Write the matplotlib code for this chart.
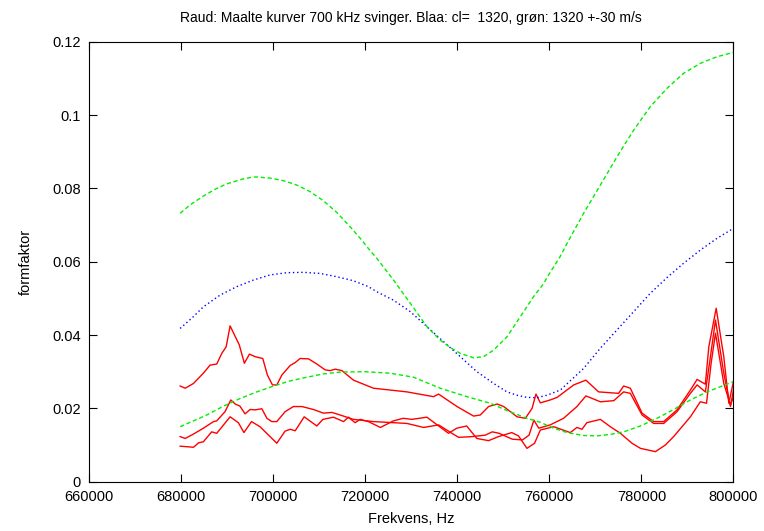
import matplotlib
matplotlib.use('Agg')
import matplotlib.pyplot as plt
from matplotlib.ticker import FuncFormatter

# theory, green (c = 1320 +- 30 m/s)
green_hi_f = [679800, 681960, 684850, 687760, 689900, 690650, 693550, 695700,
              696450, 699350, 702240, 705150, 706600, 708040, 710940, 712400,
              713850, 716740, 718910, 720700, 722540, 726150, 729780, 733400,
              736300, 738500, 740650, 743550, 745720, 747900, 750800, 753700,
              756590, 758750, 759500, 762400, 763850, 767450, 771090, 774700,
              778330, 781950, 785590, 789200, 792830, 795000, 796460, 800000]
green_hi_y = [0.0732, 0.0755, 0.0779, 0.0800, 0.0812, 0.0815, 0.0826, 0.0831,
              0.0831, 0.0828, 0.0821, 0.0809, 0.0800, 0.0791, 0.0766, 0.0750,
              0.0734, 0.0695, 0.0664, 0.0636, 0.0609, 0.0550, 0.0487, 0.0423,
              0.0386, 0.0366, 0.0350, 0.0338, 0.0341, 0.0359, 0.0395, 0.0450,
              0.0505, 0.0540, 0.0557, 0.0615, 0.0650, 0.0732, 0.0809, 0.0886,
              0.0959, 0.1023, 0.1073, 0.1114, 0.1141, 0.1152, 0.1159, 0.1171]

green_lo_f = [679800, 685590, 689200, 692830, 696460, 700070, 703700, 707330,
              710940, 714570, 720000, 725400, 730500, 736300, 742110, 747200,
              750800, 755150, 758050, 760940, 763850, 767460, 770350, 773260,
              776150, 779780, 783400, 787020, 790650, 794280, 800000]
green_lo_y = [0.0150, 0.0182, 0.0206, 0.0227, 0.0245, 0.0261, 0.0275, 0.0285,
              0.0294, 0.0299, 0.0300, 0.0296, 0.0285, 0.0255, 0.0232, 0.0214,
              0.0194, 0.0173, 0.0162, 0.0146, 0.0134, 0.0126, 0.0125, 0.0129,
              0.0136, 0.0152, 0.0173, 0.0197, 0.0223, 0.0245, 0.0273]

# theory, blue (c = 1320 m/s)
blue_f = [679800, 682670, 684850, 688480, 692100, 695720, 699350, 702980,
          706600, 710220, 713850, 717460, 720700, 722540, 726150, 729780,
          733400, 737020, 740650, 744280, 747900, 750800, 752950, 755150,
          757300, 759500, 762400, 767450, 771090, 774700, 778330, 781950,
          785590, 789200, 792830, 796460, 800000]
blue_y = [0.0418, 0.0450, 0.0477, 0.0509, 0.0532, 0.0550, 0.0564, 0.0570,
          0.0571, 0.0568, 0.0559, 0.0548, 0.0532, 0.0518, 0.0495, 0.0464,
          0.0423, 0.0382, 0.0341, 0.0300, 0.0268, 0.0245, 0.0236, 0.0230,
          0.0229, 0.0236, 0.0250, 0.0309, 0.0364, 0.0414, 0.0464, 0.0514,
          0.0557, 0.0596, 0.0632, 0.0664, 0.0691]

# measured curves, red
meas_a_f = [679800, 680900, 682700, 684850, 686300, 687750, 688850, 689800,
            690650, 692650, 693750, 694850, 696100, 697750, 698750, 699850,
            700800, 701900, 703700, 704800, 705850, 707700, 709500, 711300,
            712400, 713500, 714950, 717450, 721800, 729050, 734850, 735950,
            737000, 739950, 743550, 745000, 746800, 748650, 750100, 753000,
            754800, 756250, 757100, 758050, 760200, 761700, 765300, 767950,
            770700, 775050, 776150, 777600, 780150, 782650, 784850, 787750,
            790650, 792100, 793900, 794650, 796250, 797900, 799000, 800000]
meas_a_y = [0.0261, 0.0255, 0.0268, 0.0296, 0.0318, 0.0321, 0.0350, 0.0368,
            0.0425, 0.0373, 0.0323, 0.0348, 0.0341, 0.0336, 0.0291, 0.0264,
            0.0264, 0.0291, 0.0317, 0.0325, 0.0336, 0.0335, 0.0321, 0.0305,
            0.0303, 0.0307, 0.0303, 0.0277, 0.0255, 0.0245, 0.0232, 0.0239,
            0.0230, 0.0205, 0.0179, 0.0182, 0.0205, 0.0212, 0.0205, 0.0177,
            0.0173, 0.0200, 0.0239, 0.0215, 0.0223, 0.0230, 0.0264, 0.0277,
            0.0245, 0.0241, 0.0261, 0.0255, 0.0187, 0.0164, 0.0164, 0.0196,
            0.0250, 0.0279, 0.0266, 0.0368, 0.0473, 0.0341, 0.0214, 0.0273]

meas_b_f = [679800, 680900, 682700, 684850, 687050, 687750, 689550, 690800,
            691750, 692800, 693900, 695000, 696100, 697550, 698650, 699700,
            700800, 702600, 704400, 706250, 708750, 710950, 712750, 714550,
            717450, 721800, 729050, 732700, 735950, 738850, 740300, 743200,
            746100, 747600, 749100, 751950, 754150, 755600, 756650, 757700,
            760200, 763100, 766000, 767950, 771100, 774000, 776150, 777600,
            780150, 782650, 784850, 787750, 790650, 792100, 793900, 795000,
            796100, 797900, 799350, 800000]
meas_b_y = [0.0123, 0.0118, 0.0130, 0.0146, 0.0164, 0.0166, 0.0191, 0.0223,
            0.0212, 0.0206, 0.0185, 0.0197, 0.0196, 0.0199, 0.0173, 0.0164,
            0.0164, 0.0191, 0.0205, 0.0205, 0.0197, 0.0187, 0.0189, 0.0182,
            0.0170, 0.0164, 0.0159, 0.0148, 0.0155, 0.0132, 0.0121, 0.0123,
            0.0127, 0.0136, 0.0132, 0.0116, 0.0114, 0.0127, 0.0168, 0.0146,
            0.0155, 0.0173, 0.0205, 0.0234, 0.0218, 0.0221, 0.0245, 0.0241,
            0.0182, 0.0159, 0.0159, 0.0191, 0.0241, 0.0264, 0.0245, 0.0341,
            0.0441, 0.0296, 0.0205, 0.0250]

meas_c_f = [679800, 682700, 683800, 684850, 686650, 687750, 690650, 692450,
            693650, 695300, 697150, 700800, 702600, 703700, 704800, 706750,
            709500, 710800, 713100, 715300, 716350, 717800, 718900, 720700,
            723300, 726150, 728300, 730100, 733400, 738100, 739900, 742050,
            744250, 746800, 748950, 751850, 753300, 755150, 756800, 758050,
            760950, 764550, 766000, 767100, 768150, 771100, 773250, 775450,
            777950, 779800, 783050, 785200, 787000, 790650, 792800, 794150,
            795150, 796100, 797900, 799350, 800000]
meas_c_y = [0.0097, 0.0094, 0.0106, 0.0109, 0.0136, 0.0132, 0.0177, 0.0161,
            0.0134, 0.0164, 0.0150, 0.0105, 0.0138, 0.0143, 0.0139, 0.0177,
            0.0152, 0.0170, 0.0176, 0.0164, 0.0176, 0.0161, 0.0170, 0.0164,
            0.0148, 0.0166, 0.0173, 0.0170, 0.0176, 0.0132, 0.0146, 0.0152,
            0.0118, 0.0112, 0.0123, 0.0134, 0.0125, 0.0091, 0.0105, 0.0141,
            0.0150, 0.0134, 0.0148, 0.0143, 0.0161, 0.0170, 0.0150, 0.0132,
            0.0105, 0.0091, 0.0082, 0.0100, 0.0123, 0.0177, 0.0218, 0.0214,
            0.0323, 0.0405, 0.0268, 0.0209, 0.0232]

x_ticks = [660000, 680000, 700000, 720000, 740000, 760000, 780000, 800000]
y_ticks = [0, 0.02, 0.04, 0.06, 0.08, 0.1, 0.12]

title = 'Raud: Maalte kurver 700 kHz svinger. Blaa: cl=  1320, gr\u00f8n: 1320 +-30 m/s'

plt.rcParams['font.family'] = ['Liberation Sans', 'DejaVu Sans']
plt.rcParams['font.size'] = 10

fig = plt.figure(figsize=(7.64, 5.31), dpi=100)
ax = fig.add_axes([0.1165, 0.0928, 0.8435, 0.8287])

for f, y in [(meas_a_f, meas_a_y), (meas_b_f, meas_b_y), (meas_c_f, meas_c_y)]:
    ax.plot(f, y, color='#ff0000', lw=1.0)
ax.plot(blue_f, blue_y, color='#0000ff', lw=1.0, dashes=(1, 2))
ax.plot(green_hi_f, green_hi_y, color='#00ee00', lw=1.0, dashes=(3, 2))
ax.plot(green_lo_f, green_lo_y, color='#00ee00', lw=1.0, dashes=(3, 2))

ax.set_xlim(660000, 800000)
ax.set_ylim(0, 0.12)
ax.set_xticks(x_ticks)
ax.set_yticks(y_ticks)
ax.xaxis.set_major_formatter(FuncFormatter(lambda v, p: '{:d}'.format(int(round(v)))))
ax.yaxis.set_major_formatter(FuncFormatter(lambda v, p: '{:g}'.format(round(v, 2))))
ax.tick_params(direction='in', top=True, right=True, length=6, width=0.8,
               labelsize=10.5, pad=6)
for sp in ax.spines.values():
    sp.set_linewidth(0.8)

ax.set_title(title, fontsize=10, pad=14)
ax.set_xlabel('Frekvens, Hz', fontsize=10.5, labelpad=6)
ax.set_ylabel('formfaktor', fontsize=10.5, labelpad=14)

fig.savefig('out.png', dpi=100)
